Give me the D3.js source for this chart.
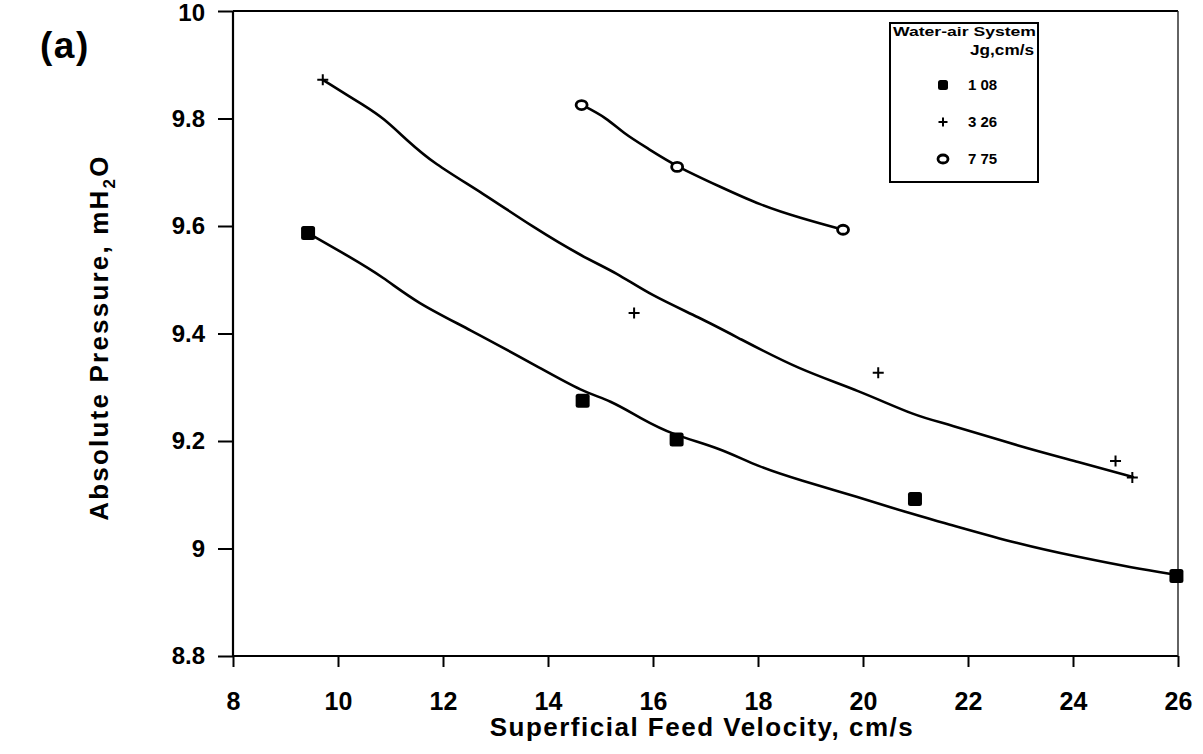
<!DOCTYPE html>
<html>
<head>
<meta charset="utf-8">
<script src="https://cdn.jsdelivr.net/npm/d3@7"></script>
<style>
  html, body { margin: 0; padding: 0; background: #fff; }
  svg { display: block; }
  text { font-family: "Liberation Sans", Arial, Helvetica, sans-serif; fill: #000; }
</style>
</head>
<body>
<svg id="chart" width="1203" height="754"></svg>
<script>
// ---- data ----
const xTicks = [8, 10, 12, 14, 16, 18, 20, 22, 24, 26];
const yTicks = [8.8, 9, 9.2, 9.4, 9.6, 9.8, 10];
const yTickLabels = ["8.8", "9", "9.2", "9.4", "9.6", "9.8", "10"];

const seriesNames = ["1 08", "3 26", "7 75"];

// measured points
const jg108X = [9.43, 14.66, 16.45, 20.99, 25.97];
const jg108Y = [9.587, 9.275, 9.203, 9.092, 8.949];
const jg326X = [9.71, 15.64, 20.29, 24.81, 25.13];
const jg326Y = [9.872, 9.438, 9.327, 9.163, 9.132];
const jg775X = [14.64, 16.46, 19.62];
const jg775Y = [9.825, 9.710, 9.593];

// fitted curves
const fit108X = [9.43, 10.23, 10.86, 11.50, 12.46, 13.85, 14.67, 15.18, 15.75, 16.38, 17.28, 18.00, 18.80, 19.90, 20.86, 21.50, 23.01, 24.11, 25.14, 25.98];
const fit108Y = [9.587, 9.542, 9.505, 9.457, 9.410, 9.336, 9.291, 9.276, 9.243, 9.211, 9.187, 9.152, 9.127, 9.096, 9.066, 9.049, 9.007, 8.984, 8.964, 8.951];
const fit326X = [9.71, 10.55, 10.86, 11.31, 11.81, 12.76, 13.71, 14.67, 15.31, 15.94, 16.90, 17.60, 18.80, 19.90, 21.03, 21.58, 23.01, 24.11, 25.14];
const fit326Y = [9.872, 9.821, 9.801, 9.760, 9.717, 9.661, 9.598, 9.542, 9.513, 9.472, 9.429, 9.393, 9.332, 9.295, 9.245, 9.233, 9.189, 9.161, 9.133];
const fit775X = [14.65, 15.12, 15.43, 15.89, 16.46, 17.28, 18.04, 18.80, 19.62];
const fit775Y = [9.825, 9.801, 9.773, 9.745, 9.710, 9.673, 9.639, 9.615, 9.593];

// ---- layout ----
const svg = d3.select("#chart");
const x = d3.scaleLinear().domain([8, 26]).range([233, 1178]);
const y = d3.scaleLinear().domain([8.8, 10]).range([656, 11]);

const zip = (xs, ys) => xs.map((v, i) => [v, ys[i]]);

// frame
const g = svg.append("g");
g.append("line").attr("x1", x(8)).attr("x2", x(26)).attr("y1", y(8.8)).attr("y2", y(8.8))
  .attr("stroke", "#000").attr("stroke-width", 2.2);
g.append("line").attr("x1", x(8)).attr("x2", x(8)).attr("y1", y(8.8)).attr("y2", y(10))
  .attr("stroke", "#000").attr("stroke-width", 2.2);
g.append("line").attr("x1", x(8)).attr("x2", x(26)).attr("y1", y(10)).attr("y2", y(10))
  .attr("stroke", "#000").attr("stroke-width", 2);
g.append("line").attr("x1", x(26)).attr("x2", x(26)).attr("y1", y(8.8)).attr("y2", y(10))
  .attr("stroke", "#222").attr("stroke-width", 1.4);

// axes
const xAxis = d3.axisBottom(x).tickValues(xTicks).tickSize(11).tickPadding(25).tickFormat(d3.format("d"));
const xg = svg.append("g").attr("transform", `translate(0,${y(8.8)})`).call(xAxis);
xg.select(".domain").remove();
xg.selectAll(".tick line").attr("stroke", "#000").attr("stroke-width", 2);
xg.selectAll(".tick text").attr("font-size", 25).attr("font-weight", "bold")
  .attr("font-family", "Liberation Sans, Arial, sans-serif");

const yAxis = d3.axisLeft(y).tickValues(yTicks).tickSize(15).tickPadding(13)
  .tickFormat((d, i) => yTickLabels[i]);
const yg = svg.append("g").attr("transform", `translate(${x(8)},0)`).call(yAxis);
yg.select(".domain").remove();
yg.selectAll(".tick line").attr("stroke", "#000").attr("stroke-width", 2);
yg.selectAll(".tick text").attr("font-size", 24).attr("font-weight", "bold")
  .attr("font-family", "Liberation Sans, Arial, sans-serif");
yg.selectAll(".tick text").filter(d => d === 10).attr("dy", "0.4em");

// curves
const line = d3.line().x(d => x(d[0])).y(d => y(d[1])).curve(d3.curveBasis);
[[fit108X, fit108Y], [fit326X, fit326Y], [fit775X, fit775Y]].forEach(([xs, ys]) => {
  svg.append("path").datum(zip(xs, ys)).attr("d", line)
    .attr("fill", "none").attr("stroke", "#000").attr("stroke-width", 2.6)
    .attr("stroke-linejoin", "round").attr("stroke-linecap", "round");
});

// markers
function square(sel, cx, cy, s) {
  sel.append("rect").attr("x", cx - s / 2).attr("y", cy - s / 2).attr("width", s).attr("height", s)
    .attr("rx", 2.5).attr("fill", "#000");
}
function plus(sel, cx, cy, s) {
  sel.append("path").attr("d", `M${cx - s / 2},${cy}H${cx + s / 2}M${cx},${cy - s / 2}V${cy + s / 2}`)
    .attr("stroke", "#000").attr("stroke-width", 2).attr("fill", "none");
}
function ring(sel, cx, cy, s) {
  sel.append("ellipse").attr("cx", cx).attr("cy", cy).attr("rx", s / 2).attr("ry", s / 2 - 1)
    .attr("fill", "#fff").attr("stroke", "#000").attr("stroke-width", 2.8);
}
const mk = svg.append("g");
zip(jg108X, jg108Y).forEach(d => square(mk, x(d[0]), y(d[1]), 14));
zip(jg326X, jg326Y).forEach(d => plus(mk, x(d[0]), y(d[1]), 11));
zip(jg775X, jg775Y).forEach(d => ring(mk, x(d[0]), y(d[1]), 11));

// axis titles
svg.append("text").attr("x", 702).attr("y", 736).attr("text-anchor", "middle")
  .attr("font-size", 26).attr("font-weight", "bold").attr("letter-spacing", 1.5)
  .text("Superficial Feed Velocity, cm/s");

const yt = svg.append("text").attr("transform", `translate(108,${y(9.4) + 4}) rotate(-90)`)
  .attr("text-anchor", "middle").attr("font-size", 26).attr("font-weight", "bold").attr("letter-spacing", 2.2);
yt.append("tspan").text("Absolute Pressure, mH");
yt.append("tspan").attr("font-size", 17).attr("dy", 7).text("2");
yt.append("tspan").attr("dy", -7).text("O");

// panel label
svg.append("text").attr("x", 40).attr("y", 58).attr("font-size", 37).attr("font-weight", "bold")
  .attr("letter-spacing", 1.5).text("(a)");

// legend
const lg = svg.append("g");
lg.append("rect").attr("x", 890).attr("y", 23).attr("width", 148).attr("height", 159)
  .attr("fill", "#fff").attr("stroke", "#000").attr("stroke-width", 2);
lg.append("text").attr("x", 893).attr("y", 36).attr("font-size", 13).attr("font-weight", "bold")
  .attr("textLength", 143).attr("lengthAdjust", "spacingAndGlyphs").text("Water-air System");
lg.append("text").attr("x", 970).attr("y", 55).attr("font-size", 14).attr("font-weight", "bold")
  .attr("textLength", 64).attr("lengthAdjust", "spacingAndGlyphs").text("Jg,cm/s");
const legendY = [85, 122, 159];
const drawers = [(cx, cy) => square(lg, cx, cy, 10), (cx, cy) => plus(lg, cx, cy, 9), (cx, cy) => ring(lg, cx, cy, 10)];
seriesNames.forEach((name, i) => {
  drawers[i](943, legendY[i]);
  lg.append("text").attr("x", 968).attr("y", legendY[i] + 5).attr("font-size", 15).attr("font-weight", "bold").text(name);
});
</script>
</body>
</html>
